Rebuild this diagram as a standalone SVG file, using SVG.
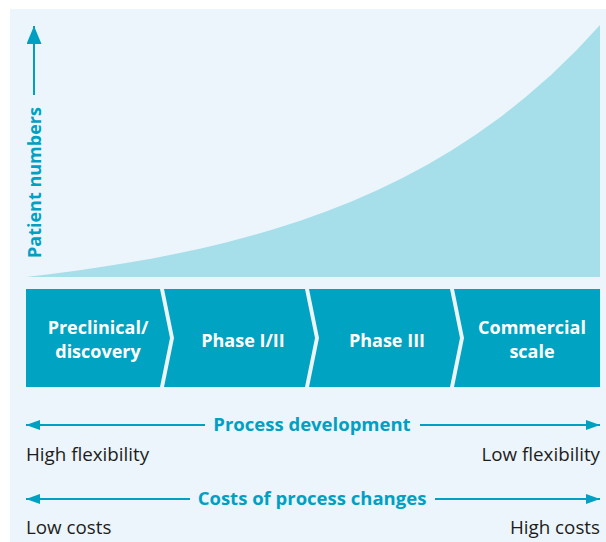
<svg xmlns="http://www.w3.org/2000/svg" width="606" height="542" viewBox="0 0 606 542">
<defs>
<style>
.bg{fill:#ecf5fb}
.area{fill:#a6deea}
.phase{fill:#00a3c1}
.pl{font-family:"Open Sans","Liberation Sans",sans-serif;font-weight:bold;font-size:18px;fill:#ffffff;text-anchor:middle}
.ax{font-family:"Open Sans","Liberation Sans",sans-serif;font-weight:bold;font-size:18.5px;fill:#00a0c3}
.lb{font-family:"Open Sans","Liberation Sans",sans-serif;font-size:18.8px;fill:#1d1d1b}
.ln{stroke:#00a0c3;stroke-width:2;fill:none}
</style>
<marker id="ah" viewBox="0 0 14 10" refX="14" refY="5" markerWidth="14" markerHeight="10" markerUnits="userSpaceOnUse" orient="auto-start-reverse">
<path d="M0,0 L14,5 L0,10 Z" fill="#00a0c3"/>
</marker>
<marker id="ahv" viewBox="0 0 18 15" refX="18" refY="7.5" markerWidth="18" markerHeight="15" markerUnits="userSpaceOnUse" orient="auto">
<path d="M0,0 L18,7.5 L0,15 Z" fill="#00a0c3"/>
</marker>
</defs>
<rect class="bg" x="10" y="9" width="596" height="533"/>
<g id="curve">
<polygon class="area" points="26,277 51,274 76,270.8 101,267.1 126,263.1 151,258.7 176,253.8 201,248.4 226,242.4 251,235.8 276,228.5 301,220.5 326,211.6 351,201.7 376,190.8 401,178.8 426,165.5 451,150.8 476,134.6 501,116.7 526,96.8 551,74.9 576,50.7 600,25 600,277"/>
</g>
<g id="y-axis">
<line class="ln" x1="34" y1="95" x2="34" y2="26" marker-end="url(#ahv)"/>
<text class="ax" transform="translate(41,258) rotate(-90)" style="font-size:18px">Patient numbers</text>
</g>
<g id="phase1">
<polygon class="phase" points="26,289 160,289 170,338 160,387 26,387"/>
<text class="pl" x="98" y="334">Preclinical/</text>
<text class="pl" x="98" y="358">discovery</text>
</g>
<g id="phase2">
<polygon class="phase" points="164,289 305,289 315,338 305,387 164,387 174,338"/>
<text class="pl" x="243" y="347">Phase I/II</text>
</g>
<g id="phase3">
<polygon class="phase" points="309,289 450,289 460,338 450,387 309,387 319,338"/>
<text class="pl" x="387" y="347">Phase III</text>
</g>
<g id="phase4">
<polygon class="phase" points="454,289 600,289 600,387 454,387 464,338"/>
<text class="pl" x="532" y="334">Commercial</text>
<text class="pl" x="532" y="358">scale</text>
</g>
<g id="connectors">
<line class="ln" x1="26" y1="425" x2="205" y2="425" marker-start="url(#ah)"/>
<line class="ln" x1="420" y1="425" x2="600" y2="425" marker-end="url(#ah)"/>
<line class="ln" x1="26" y1="499" x2="190" y2="499" marker-start="url(#ah)"/>
<line class="ln" x1="435" y1="499" x2="600" y2="499" marker-end="url(#ah)"/>
</g>
<g id="process-development">
<text class="ax" x="312" y="431" text-anchor="middle">Process development</text>
<text class="lb" x="26" y="461">High flexibility</text>
<text class="lb" x="600" y="461" text-anchor="end">Low flexibility</text>
</g>
<g id="costs">
<text class="ax" x="312" y="505" text-anchor="middle">Costs of process changes</text>
<text class="lb" x="26" y="534">Low costs</text>
<text class="lb" x="600" y="534" text-anchor="end">High costs</text>
</g>
</svg>
